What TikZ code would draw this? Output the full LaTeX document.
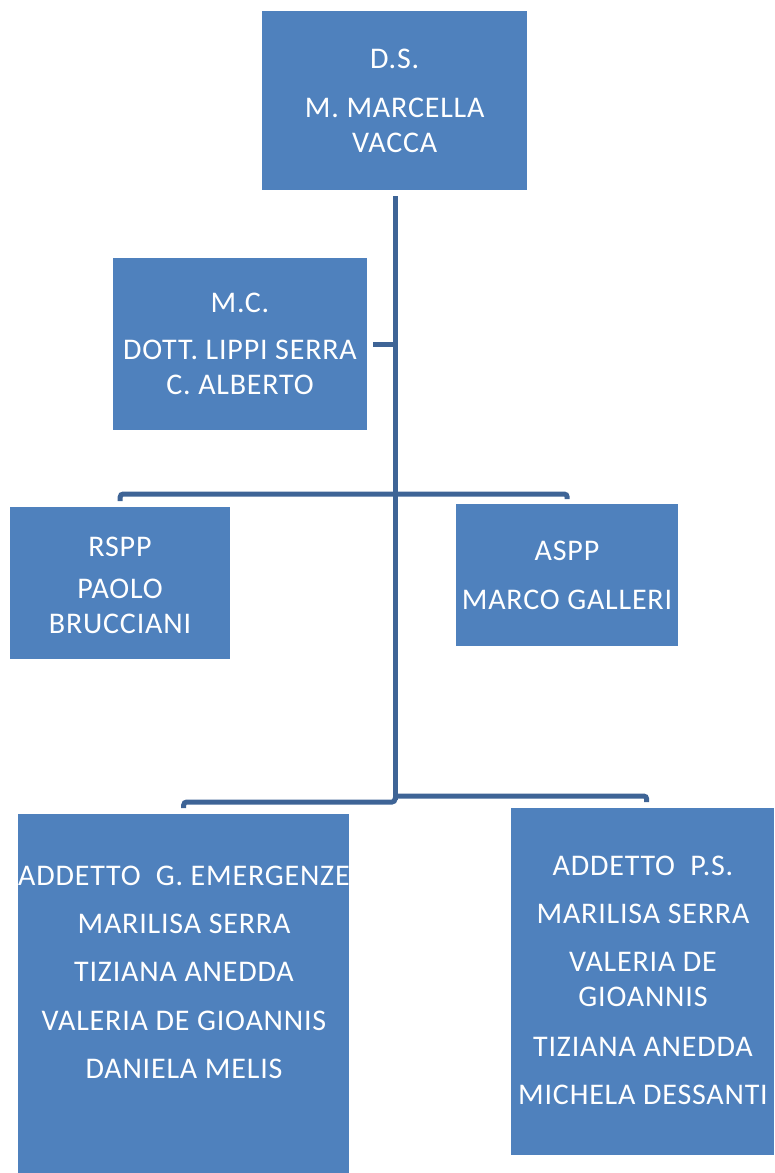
\documentclass[tikz,border=0pt]{standalone}
\usepackage{fontspec}
\setmainfont{Carlito}[LetterSpace=2.7]
\definecolor{boxblue}{RGB}{79,129,189}
\definecolor{linkblue}{RGB}{62,100,150}
\begin{document}
\begin{tikzpicture}[x=1pt,y=-1pt,
  box/.style={fill=boxblue,draw=none,inner sep=0pt,anchor=north west},
  txt/.style={text=white,align=center,font=\fontsize{30}{35}\selectfont,inner sep=0pt},
  conn/.style={draw=linkblue,line width=5pt,rounded corners=3pt}]
\useasboundingbox (0,0) rectangle (774,1173);
% boxes
\node[box,minimum width=265pt,minimum height=179pt] (ds) at (262,11) {};
\node[box,minimum width=254pt,minimum height=172pt] (mc) at (113,258) {};
\node[box,minimum width=220pt,minimum height=152pt] (rspp) at (10,507) {};
\node[box,minimum width=222pt,minimum height=142pt] (aspp) at (456,504) {};
\node[box,minimum width=331pt,minimum height=359pt] (gem) at (18,814) {};
\node[box,minimum width=263pt,minimum height=347pt] (ps) at (511,808) {};
% texts
\node[txt] (dst) at (ds.center) {D.S.\\[14pt]M. MARCELLA\\VACCA};
\node[txt] (mct) at (240,344) {M.C.\\[12pt]DOTT. LIPPI SERRA\\C. ALBERTO};
\node[txt] (rsppt) at (120,585) {RSPP\\[7pt]PAOLO\\BRUCCIANI};
\node[txt] (asppt) at (567,575) {ASPP\\[14pt]MARCO GALLERI};
\node[txt] (gemt) at (184,972) {ADDETTO~~G. EMERGENZE\\[13pt]MARILISA SERRA\\[13pt]TIZIANA ANEDDA\\[14pt]VALERIA DE GIOANNIS\\[13pt]DANIELA MELIS};
\node[txt] (pst) at (643,980) {ADDETTO~~P.S.\\[13pt]MARILISA SERRA\\[13pt]VALERIA DE\\GIOANNIS\\[15pt]TIZIANA ANEDDA\\[13pt]MICHELA DESSANTI};
% connectors
\coordinate (top) at (395,196);
\coordinate (bot) at (395,800);
\coordinate (j1) at (395,494);
\coordinate (j2l) at (395,802);
\coordinate (j2r) at (395,796);
\draw[conn,rounded corners=0pt] (top) -- (bot);
\draw[conn,rounded corners=0pt] ([xshift=6pt]mc.east) -- (mc.east -| top);
\draw[conn] ([yshift=6pt]rspp.north) |- (j1) -- (aspp.north |- j1) -- ([yshift=5pt]aspp.north);
\draw[conn] ([yshift=6pt]gem.north) |- (j2l) -- (bot);
\draw[conn] ([yshift=6pt,xshift=4pt]ps.north) |- (j2r);
\end{tikzpicture}
\end{document}
